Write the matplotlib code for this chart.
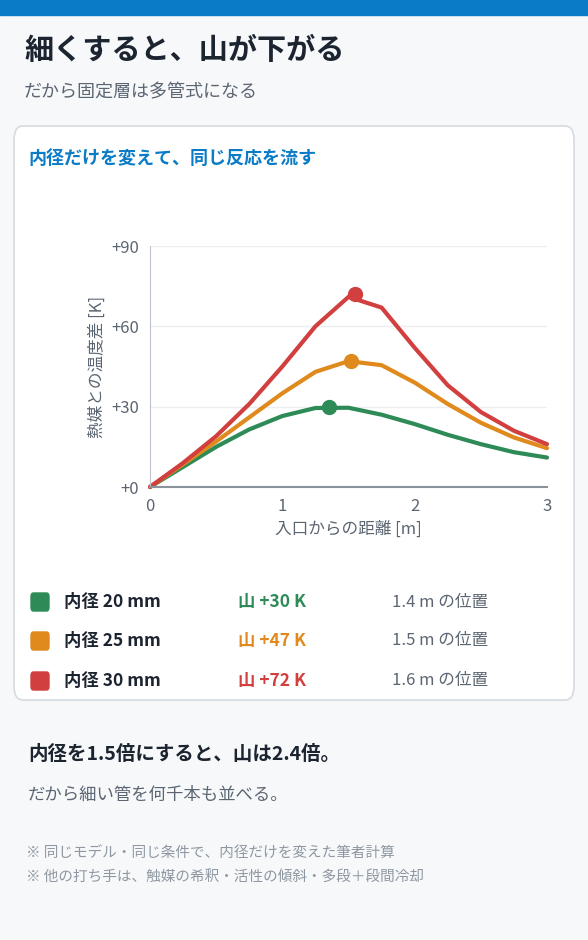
import matplotlib
matplotlib.use("Agg")
import matplotlib.pyplot as plt
from matplotlib.patches import FancyBboxPatch, Rectangle

plt.rcParams['font.family'] = ['Noto Sans CJK JP', 'DejaVu Sans']

x = [0, 0.25, 0.5, 0.75, 1.0, 1.25, 1.5, 1.75, 2.0, 2.25, 2.5, 2.75, 3.0]
green = [0, 7.5, 15, 21.5, 26.5, 29.5, 29.6, 27, 23.5, 19.5, 16, 13, 11]
orange = [0, 8.5, 17, 26, 35, 43, 47, 45.5, 39, 31, 24, 18.5, 14.5]
red = [0, 9, 19, 31, 45, 60, 71, 67, 52, 38, 28, 21, 16]
peak_x = [1.35, 1.52, 1.55]
peak_y = [30, 47, 72]
names = ["内径 20 mm", "内径 25 mm", "内径 30 mm"]
peak_labels = ["山 +30 K", "山 +47 K", "山 +72 K"]
pos_labels = ["1.4 m の位置", "1.5 m の位置", "1.6 m の位置"]
colors = ["#2e8b57", "#e08a1e", "#d13f3f"]
series = [green, orange, red]

W, H = 588, 940
fig = plt.figure(figsize=(W/100, H/100), dpi=100)
fig.patch.set_facecolor("#f6f8fa")

def px(xp, yp):
    return xp/W, 1 - yp/H

fig.patches.append(Rectangle((0, 1-15/H), 1, 15/H, transform=fig.transFigure, color="#0a7cc7", zorder=0))
fig.patches.append(FancyBboxPatch(px(14, 700), 560/W, 574/H, boxstyle="round,pad=0,rounding_size=0.015",
                                  transform=fig.transFigure, facecolor="white", edgecolor="#d5dbe1", lw=1.2, zorder=0))

fig.text(*px(24, 50), "細くすると、山が下がる", fontsize=21, weight="bold", color="#1c2430", va="center")
fig.text(*px(24, 92), "だから固定層は多管式になる", fontsize=13, color="#5c6672", va="center")
fig.text(*px(28, 158), "内径だけを変えて、同じ反応を流す", fontsize=13, weight="bold", color="#0a7cc7", va="center")

ax = fig.add_axes([150/W, 1-487/H, 397/W, 241/H], zorder=3)
ax.set_facecolor("white")
ax.patch.set_alpha(0)
for s, c in zip(series, colors):
    ax.plot(x, s, color=c, lw=3, solid_capstyle="round", clip_on=False)
for px_, py_, c in zip(peak_x, peak_y, colors):
    ax.plot(px_, py_, "o", color=c, ms=10, zorder=5)
ax.set_xlim(0, 3)
ax.set_ylim(0, 90)
ax.set_xticks([0, 1, 2, 3])
ax.set_yticks([0, 30, 60, 90])
ax.set_yticklabels(["+0", "+30", "+60", "+90"])
ax.grid(axis="y", color="#eceff2", lw=1)
for sp in ["top", "right"]:
    ax.spines[sp].set_visible(False)
ax.spines["left"].set_color("#bfc5cc")
ax.spines["bottom"].set_color("#8a939c")
ax.spines["bottom"].set_linewidth(1.5)
ax.tick_params(length=0, labelsize=12, colors="#5c6672", pad=8)
ax.set_xlabel("入口からの距離 [m]", fontsize=12, color="#5c6672", labelpad=4)
ax.set_ylabel("熱媒との温度差 [K]", fontsize=12, color="#5c6672", labelpad=4)

for i, yp in enumerate([602, 641, 681]):
    fig.patches.append(FancyBboxPatch(px(31, yp+9), 18/W, 18/H, boxstyle="round,pad=0,rounding_size=0.004",
                                      transform=fig.transFigure, color=colors[i]))
    fig.text(*px(64, yp), names[i], fontsize=12.5, weight="bold", color="#1c2430", va="center")
    fig.text(*px(238, yp), peak_labels[i], fontsize=12.5, weight="bold", color=colors[i], va="center")
    fig.text(*px(392, yp), pos_labels[i], fontsize=12, color="#5c6672", va="center")

fig.text(*px(28, 754), "内径を1.5倍にすると、山は2.4倍。", fontsize=14, weight="bold", color="#1c2430", va="center")
fig.text(*px(28, 795), "だから細い管を何千本も並べる。", fontsize=12.5, color="#5c6672", va="center")
fig.text(*px(26, 853), "※ 同じモデル・同じ条件で、内径だけを変えた筆者計算", fontsize=10.5, color="#8f98a2", va="center")
fig.text(*px(26, 877), "※ 他の打ち手は、触媒の希釈・活性の傾斜・多段＋段間冷却", fontsize=10.5, color="#8f98a2", va="center")

fig.savefig("out.png", dpi=100, facecolor=fig.get_facecolor())
